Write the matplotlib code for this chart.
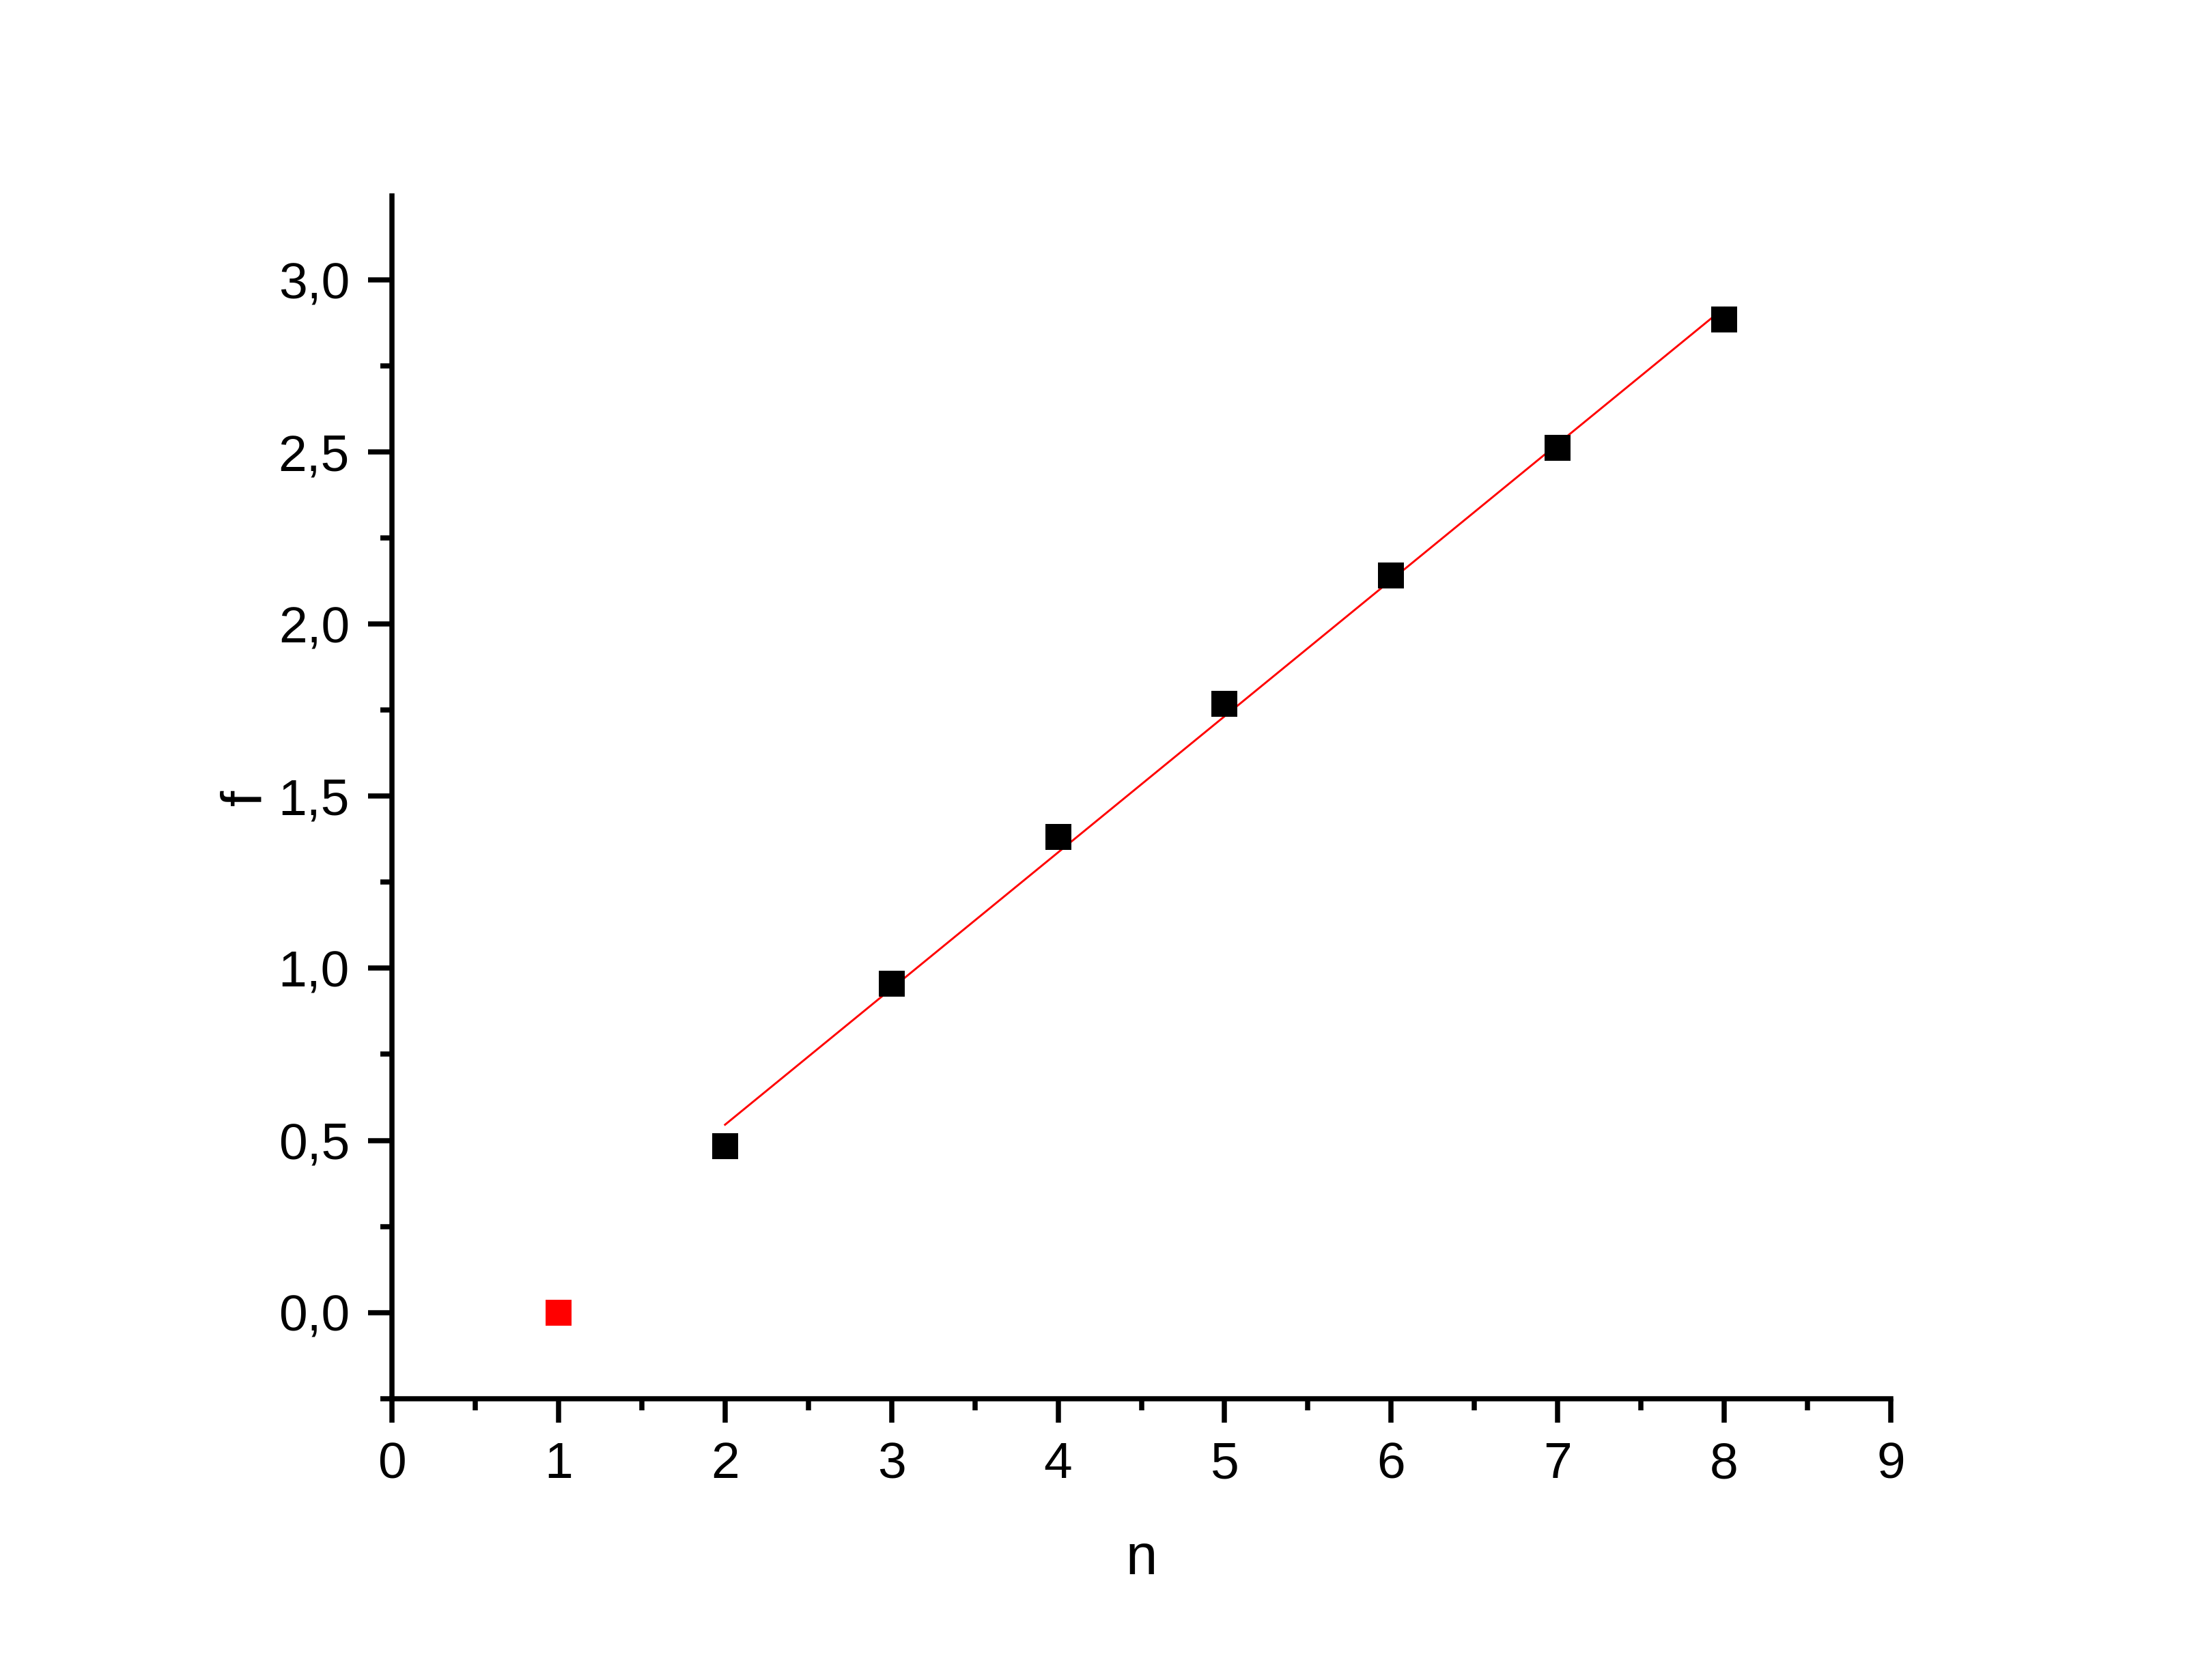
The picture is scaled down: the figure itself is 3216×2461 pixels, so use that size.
import numpy as np
import matplotlib.pyplot as plt
from matplotlib.ticker import MultipleLocator, FuncFormatter

plt.rcParams['font.family'] = ['Liberation Sans', 'DejaVu Sans']

# data
n_fit = [2, 3, 4, 5, 6, 7, 8]
f_fit = [0.484, 0.955, 1.382, 1.768, 2.142, 2.512, 2.886]
n_out = [1]
f_out = [0.0]

# linear fit through the black points
slope, intercept = np.polyfit(n_fit, f_fit, 1)
x_line = np.array([n_fit[0], n_fit[-1]])
y_line = slope * x_line + intercept

fig = plt.figure(figsize=(3216 / 300, 2461 / 300), dpi=300)
ax = fig.add_axes([0.1785, 0.1674, 0.861 - 0.1785, 0.8834 - 0.1674])

ax.plot(x_line, y_line, color='red', lw=0.7, zorder=2)
ax.plot(n_fit, f_fit, 's', color='black', ms=9, mew=0, zorder=3)
ax.plot(n_out, f_out, 's', color='red', ms=9, mew=0, zorder=3)

ax.set_xlim(0, 9)
ax.set_ylim(-0.251, 3.245)

ax.xaxis.set_major_locator(MultipleLocator(1))
ax.xaxis.set_minor_locator(MultipleLocator(0.5))
ax.yaxis.set_major_locator(MultipleLocator(0.5))
ax.yaxis.set_minor_locator(MultipleLocator(0.25))
ax.yaxis.set_major_formatter(FuncFormatter(lambda v, p: f"{v:.1f}".replace('.', ',')))

for s in ['top', 'right']:
    ax.spines[s].set_visible(False)
for s in ['left', 'bottom']:
    ax.spines[s].set_linewidth(1.8)

ax.tick_params(which='major', direction='out', length=8.4, width=1.8, labelsize=18, pad=6.5)
ax.tick_params(which='minor', direction='out', length=4, width=1.8)

ax.set_xlabel('n', fontsize=20, labelpad=15.5)
ax.set_ylabel('f', fontsize=20, labelpad=2)

fig.savefig('out.png', dpi=300)
plt.close(fig)
